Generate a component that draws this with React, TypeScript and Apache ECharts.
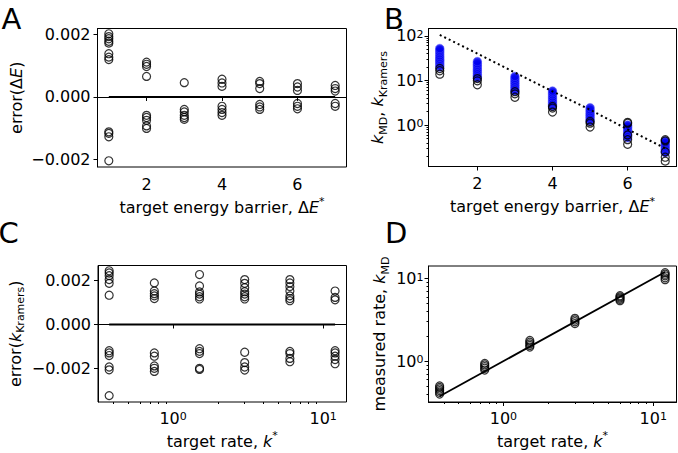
import React, { useEffect, useRef } from "react";
import * as echarts from "echarts";

// ---------- data ----------
const barriers = [1, 2, 3, 4, 5, 6, 7];
// Panel A: error(ΔE) per target barrier
const errA: number[][] = [
  [0.00203, 0.00194, 0.00187, 0.00179, 0.00173, 0.00139, 0.00128, 0.0012, -0.00112, -0.00117, -0.00128, -0.00205],
  [0.00112, 0.00105, 0.00098, 0.00066, -0.00059, -0.00066, -0.00075, -0.00093, -0.00101],
  [0.00046, -0.0004, -0.00048, -0.00059, -0.00066, -0.00072],
  [0.00057, 0.00045, 0.00034, -0.0003, -0.0004, -0.0005, -0.00059],
  [0.0005, 0.00043, 0.00027, -0.00024, -0.00032, -0.0004],
  [0.00043, 0.00032, 0.00021, -0.00021, -0.0003, -0.00038],
  [0.00037, 0.00027, 0.00019, -0.00021, -0.0003],
];
// Panel B: k_Kramers estimates (blue) and k_MD (black) per barrier
const kKramersB: number[][] = [
  [20, 22, 24, 26, 28, 30, 33, 36, 40, 44, 48, 52],
  [11.5, 12.5, 13.5, 15, 16.5, 18, 20, 22, 24, 26.5],
  [5.8, 6.3, 7, 7.7, 8.5, 9.3, 10.2, 11.2, 12.3],
  [2.65, 2.9, 3.2, 3.5, 3.9, 4.3, 4.8, 5.3, 5.8],
  [1.23, 1.35, 1.5, 1.65, 1.8, 2.0, 2.2, 2.45],
  [0.52, 0.57, 0.63, 0.7, 0.77, 0.85, 0.93, 1.0],
  [0.24, 0.26, 0.285, 0.31, 0.34, 0.37, 0.4, 0.44],
];
const kMDB: number[][] = [
  [13.8, 16.5, 18.5],
  [8.0, 9.8, 11],
  [4.2, 5.0, 5.6],
  [1.95, 2.4, 2.6],
  [0.9, 1.1, 1.2],
  [0.37, 0.47, 0.6, 1.1, 1.15],
  [0.155, 0.19, 0.25, 0.44, 0.47],
];
const kramersCurve = [105, 40, 15, 5.7, 2.2, 0.8, 0.3];
// Panels C, D: target rates
const targetRates = [0.375, 0.75, 1.5, 3, 6, 12];
const errC: number[][] = [
  [0.00244, 0.00234, 0.00222, 0.00204, 0.00187, 0.00133, -0.00119, -0.00129, -0.00141, -0.00193, -0.00206, -0.00323],
  [0.00189, 0.00152, 0.0014, 0.0013, 0.00118, -0.00129, -0.00144, -0.00188, -0.00199, -0.00213],
  [0.00227, 0.00175, 0.00148, 0.00138, 0.00126, 0.00116, -0.0011, -0.00122, -0.00132, -0.00199, -0.00204],
  [0.00204, 0.00187, 0.00167, 0.00149, 0.00138, 0.00126, 0.00116, -0.00126, -0.00173, -0.00193, -0.00207],
  [0.00204, 0.00189, 0.00172, 0.00152, 0.0013, 0.00118, 0.00108, -0.00122, -0.00132, -0.00154, -0.00169],
  [0.00152, 0.00123, 0.00112, -0.00119, -0.00129, -0.00144, -0.00159, -0.00178],
];
const kMDD: number[][] = [
  [0.4, 0.42, 0.44, 0.46, 0.48, 0.5],
  [0.78, 0.82, 0.86, 0.9, 0.94],
  [1.48, 1.55, 1.62, 1.7, 1.78],
  [2.85, 3.0, 3.15, 3.3],
  [5.4, 5.6, 5.8, 6.0, 6.2],
  [9.7, 10.2, 10.8, 11.3, 11.8],
];
const errTicks = [-0.002, 0, 0.002];
const barrierTicks = [2, 4, 6];
const logMajorB = [1, 10, 100];
const logMinorB = [0.2, 0.3, 0.4, 0.5, 0.6, 0.7, 0.8, 0.9, 2, 3, 4, 5, 6, 7, 8, 9, 20, 30, 40, 50, 60, 70, 80, 90];
const logMajorCD = [1, 10];
const logMinorCD = [0.4, 0.5, 0.6, 0.7, 0.8, 0.9, 2, 3, 4, 5, 6, 7, 8, 9];

// ---------- helpers ----------
const FONT = "DejaVu Sans";
const FS = 16;

const pairs = (xs: number[], ys: number[][]) =>
  xs.flatMap((x, i) => ys[i].map((y) => [x, y]));

const rich = {
  i: { fontStyle: "italic", fontSize: FS, fontFamily: FONT, color: "#000" },
  sub: { fontSize: 11, fontFamily: FONT, color: "#000", verticalAlign: "bottom", lineHeight: 12 },
  sup: { fontSize: 11, fontFamily: FONT, color: "#000", verticalAlign: "top", lineHeight: 12 },
};
const richTick = {
  sup: { fontSize: 11, fontFamily: FONT, color: "#000", verticalAlign: "top", lineHeight: 6 },
};

const fmtErr = (v: number) => {
  if (Math.abs(v) < 1e-9) return "0.000";
  const s = Math.abs(v).toFixed(3);
  return v < 0 ? "\u2212" + s : s;
};
const fmtPow = (v: number) => `10{sup|${Math.round(Math.log10(v))}}`;

const tickStyle = (len: number, values?: number[]) => ({
  show: true,
  inside: false,
  length: len,
  lineStyle: { color: "#000", width: 1 },
  ...(values ? { customValues: values } : {}),
});

const labelStyle = (margin: number, values: number[], formatter: any, lineHeight: number, r: any) => ({
  show: true,
  color: "#000",
  fontFamily: FONT,
  fontSize: FS,
  margin,
  lineHeight,
  customValues: values,
  formatter,
  rich: r,
  showMinLabel: true,
  showMaxLabel: true,
});

const nameStyle = { color: "#000", fontFamily: FONT, fontSize: FS, lineHeight: 22, rich };

function valueAxis(gridIndex: number, min: number, max: number, ticks: number[], fmt: any, margin: number, extra: any) {
  return {
    type: "value",
    gridIndex,
    min,
    max,
    axisLine: { show: true, lineStyle: { color: "#000", width: 1 } },
    axisTick: tickStyle(4, ticks),
    axisLabel: labelStyle(margin, ticks, fmt, 20, rich),
    splitLine: { show: false },
    nameTextStyle: nameStyle,
    nameLocation: "middle",
    ...extra,
  };
}
function logAxis(gridIndex: number, min: number, max: number, major: number[], margin: number, extra: any) {
  return {
    type: "log",
    logBase: 10,
    gridIndex,
    min,
    max,
    axisLine: { show: true, lineStyle: { color: "#000", width: 1 } },
    axisTick: tickStyle(4, major),
    axisLabel: labelStyle(margin, major, fmtPow, 14, richTick),
    splitLine: { show: false },
    minorTick: { show: false },
    nameTextStyle: nameStyle,
    nameLocation: "middle",
    ...extra,
  };
}
function minorAxis(gridIndex: number, min: number, max: number, minor: number[], position: string) {
  return {
    type: "log",
    logBase: 10,
    gridIndex,
    min,
    max,
    position,
    axisLine: { show: false },
    axisTick: tickStyle(2, minor),
    axisLabel: { show: false },
    splitLine: { show: false },
  };
}

const openCircle = { color: "rgba(0,0,0,0)", borderColor: "#000", borderWidth: 1.2 };
const letterStyle = (text: string) => ({
  text,
  fontSize: 29,
  fontFamily: FONT,
  fill: "#000",
  verticalAlign: "middle",
  lineHeight: 18,
});

export default function App() {
  const ref = useRef<HTMLDivElement>(null);
  useEffect(() => {
    if (!ref.current) return;
    const chart = echarts.init(ref.current, undefined, { renderer: "svg" });
    const gridBase = { show: true, borderColor: "#000", borderWidth: 1, backgroundColor: "transparent", containLabel: false };
    const option: any = {
      animation: false,
      textStyle: { fontFamily: FONT },
      grid: [
        { ...gridBase, left: 97.5, top: 28.5, width: 249, height: 138.5 },
        { ...gridBase, left: 428.5, top: 28.5, width: 248, height: 138 },
        { ...gridBase, left: 98, top: 265.5, width: 248.5, height: 139 },
        { ...gridBase, left: 428.5, top: 266, width: 248, height: 138.5 },
      ],
      xAxis: [
        valueAxis(0, 0.7, 7.3, barrierTicks, (v: number) => String(v), 7, {
          name: "target energy barrier, \u0394{i|E}{sup|*}",
          nameGap: 29,
        }),
        valueAxis(1, 0.7, 7.3, barrierTicks, (v: number) => String(v), 7, {
          name: "target energy barrier, \u0394{i|E}{sup|*}",
          nameGap: 29,
        }),
        logAxis(2, 0.316, 14.3, logMajorCD, 9, { name: "target rate, {i|k}{sup|*}", nameGap: 28 }),
        minorAxis(2, 0.316, 14.3, logMinorCD, "bottom"),
        logAxis(3, 0.316, 14.3, logMajorCD, 9, { name: "target rate, {i|k}{sup|*}", nameGap: 28 }),
        minorAxis(3, 0.316, 14.3, logMinorCD, "bottom"),
      ],
      yAxis: [
        valueAxis(0, -0.00225, 0.0022, errTicks, fmtErr, 7, {
          name: "error(\u0394{i|E})",
          nameRotate: 90,
          nameGap: 70,
          position: "left",
        }),
        logAxis(1, 0.1175, 146, logMajorB, 5, {
          name: "{i|k}{sub|MD}, {i|k}{sub|Kramers}",
          nameRotate: 90,
          nameGap: 40,
          position: "left",
        }),
        minorAxis(1, 0.1175, 146, logMinorB, "left"),
        valueAxis(2, -0.00352, 0.00268, errTicks, fmtErr, 7, {
          name: "error({i|k}{sub|Kramers})",
          nameRotate: 90,
          nameGap: 72,
          position: "left",
        }),
        logAxis(3, 0.32, 14.2, logMajorCD, 5, {
          name: "measured rate, {i|k}{sub|MD}",
          nameRotate: 90,
          nameGap: 38,
          position: "left",
        }),
        minorAxis(3, 0.32, 14.2, logMinorCD, "left"),
      ],
      series: [
        {
          type: "line",
          xAxisIndex: 0,
          yAxisIndex: 0,
          data: [[barriers[0], 0], [barriers[barriers.length - 1], 0]],
          showSymbol: false,
          lineStyle: { color: "#000", width: 1.8 },
        },
        {
          type: "scatter",
          xAxisIndex: 0,
          yAxisIndex: 0,
          data: pairs(barriers, errA),
          symbol: "circle",
          symbolSize: 8,
          itemStyle: openCircle,
        },
        {
          type: "scatter",
          xAxisIndex: 1,
          yAxisIndex: 1,
          data: pairs(barriers, kKramersB),
          symbol: "circle",
          symbolSize: 8.5,
          itemStyle: { color: "#0000f0", borderColor: "#5050ff", borderWidth: 0.6 },
        },
        {
          type: "scatter",
          xAxisIndex: 1,
          yAxisIndex: 1,
          data: pairs(barriers, kMDB),
          symbol: "circle",
          symbolSize: 8,
          itemStyle: openCircle,
        },
        {
          type: "line",
          xAxisIndex: 1,
          yAxisIndex: 1,
          data: barriers.map((x, i) => [x, kramersCurve[i]]),
          showSymbol: false,
          lineStyle: { color: "#000", width: 2, type: [2, 3] },
        },
        {
          type: "line",
          xAxisIndex: 2,
          yAxisIndex: 3,
          data: [[targetRates[0], 0], [targetRates[targetRates.length - 1], 0]],
          showSymbol: false,
          lineStyle: { color: "#000", width: 1.8 },
        },
        {
          type: "scatter",
          xAxisIndex: 2,
          yAxisIndex: 3,
          data: pairs(targetRates, errC),
          symbol: "circle",
          symbolSize: 8,
          itemStyle: openCircle,
        },
        {
          type: "scatter",
          xAxisIndex: 4,
          yAxisIndex: 4,
          data: pairs(targetRates, kMDD),
          symbol: "circle",
          symbolSize: 8,
          itemStyle: openCircle,
        },
        {
          type: "line",
          xAxisIndex: 4,
          yAxisIndex: 4,
          data: [
            [targetRates[0], targetRates[0]],
            [targetRates[targetRates.length - 1], targetRates[targetRates.length - 1]],
          ],
          showSymbol: false,
          lineStyle: { color: "#000", width: 1.8 },
        },
      ],
      graphic: [
        { type: "text", x: 1.5, y: 18.5, style: letterStyle("A") },
        { type: "text", x: 384, y: 18.5, style: letterStyle("B") },
        { type: "text", x: -1.5, y: 232.5, style: letterStyle("C") },
        { type: "text", x: 385, y: 232.5, style: letterStyle("D") },
      ],
    };
    chart.setOption(option);
    return () => chart.dispose();
  }, []);
  return (
    <div
      ref={ref}
      style={{ position: "fixed", left: 0, top: 0, width: 678, height: 453, background: "#fff" }}
    />
  );
}
